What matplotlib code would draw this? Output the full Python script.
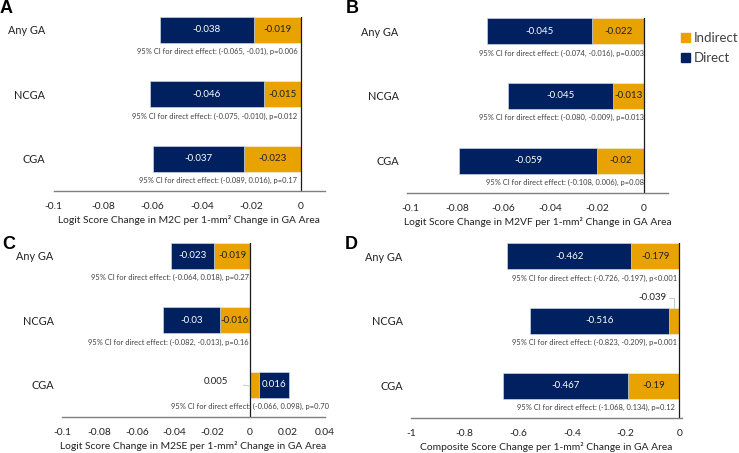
import numpy as np
import matplotlib
matplotlib.use("Agg")
import matplotlib.pyplot as plt
from matplotlib.patches import Patch

plt.rcParams['font.family'] = ['Lato', 'DejaVu Sans']

groups = ["Any GA", "NCGA", "CGA"]

# panel data: direct / indirect effects
direct_a = [-0.038, -0.046, -0.037]
indirect_a = [-0.019, -0.015, -0.023]
ci_a = ["(-0.065, -0.01), p=0.006", "(-0.075, -0.010), p=0.012", "(-0.089, 0.016), p=0.17"]

direct_b = [-0.045, -0.045, -0.059]
indirect_b = [-0.022, -0.013, -0.02]
ci_b = ["(-0.074, -0.016), p=0.003", "(-0.080, -0.009), p=0.013", "(-0.108, 0.006), p=0.08"]

direct_c = [-0.023, -0.03, 0.016]
indirect_c = [-0.019, -0.016, 0.005]
ci_c = ["(-0.064, 0.018), p=0.27", "(-0.082, -0.013), p=0.16", "(-0.066, 0.098), p=0.70"]

direct_d = [-0.462, -0.516, -0.467]
indirect_d = [-0.179, -0.039, -0.19]
ci_d = ["(-0.726, -0.197), p<0.001", "(-0.823, -0.209), p=0.001", "(-1.068, 0.134), p=0.12"]

xticks_ab = [-0.1, -0.08, -0.06, -0.04, -0.02, 0]
xticks_c = [-0.1, -0.08, -0.06, -0.04, -0.02, 0, 0.02, 0.04]
xticks_d = [-1, -0.8, -0.6, -0.4, -0.2, 0]

navy = "#002060"
gold = "#E8A202"

fig = plt.figure(figsize=(7.39, 4.53), dpi=100)


def panel(rect, letter, letter_pos, direct, indirect, ci, xlim, xticks, xlabel,
          ci_x, small_label=None):
    ax = fig.add_axes(rect)
    y = np.array([2, 1, 0])
    h = 0.4
    direct = np.array(direct)
    indirect = np.array(indirect)
    ax.barh(y, indirect, height=h, color=gold, edgecolor="#f2f2f2", linewidth=0.4)
    ax.barh(y, direct, left=indirect, height=h, color=navy, edgecolor="#dde3ee", linewidth=0.4)
    for i in range(3):
        if small_label is None or small_label != i:
            ax.text(indirect[i] / 2, y[i], f"{indirect[i]:g}", ha="center", va="center",
                    fontsize=7, color="#222222")
        ax.text(indirect[i] + direct[i] / 2, y[i], f"{direct[i]:g}", ha="center", va="center",
                fontsize=7, color="white")
        ax.text(ci_x[i], y[i] - 0.34, "95% CI for direct effect: " + ci[i], ha="right",
                va="center", fontsize=5.4, color="#404040")
    ax.set_xlim(*xlim)
    ax.set_ylim(-0.5, 2.2)
    ax.set_yticks(y)
    ax.set_yticklabels(groups)
    ax.set_xticks(xticks)
    ax.set_xticklabels([f"{t:g}" for t in xticks])
    ax.tick_params(axis="both", length=0, labelsize=7.4, colors="#222222")
    ax.tick_params(axis="y", pad=6, labelsize=7.8)
    ax.tick_params(axis="x", pad=8)
    for s in ["top", "right", "left"]:
        ax.spines[s].set_visible(False)
    ax.spines["bottom"].set_color("#7f7f7f")
    ax.spines["bottom"].set_linewidth(1.0)
    ax.axvline(0, color="#1a1a1a", lw=0.9)
    ax.set_xlabel(xlabel, fontsize=7.4, color="#222222", labelpad=3)
    fig.text(letter_pos[0], letter_pos[1], letter, fontsize=13, fontweight="bold",
             family="Liberation Sans", ha="left", va="top")
    return ax


panel([0.0724, 0.5784, 0.3674, 0.384], "A", (0.0, 1.0), direct_a, indirect_a, ci_a,
      (-0.1, 0.0097), xticks_ab, "Logit Score Change in M2C per 1-mm² Change in GA Area",
      [-0.0015, -0.0015, -0.0015])

panel([0.5507, 0.574, 0.3532, 0.386], "B", (0.468, 1.0), direct_b, indirect_b, ci_b,
      (-0.1013, 0.0103), xticks_ab, "Logit Score Change in M2VF per 1-mm² Change in GA Area",
      [0.0, 0.0, 0.0])

ax_c = panel([0.0839, 0.0795, 0.3559, 0.384], "C", (0.003, 0.478), direct_c, indirect_c, ci_c,
             (-0.1, 0.04), xticks_c, "Logit Score Change in M2SE per 1-mm² Change in GA Area",
             [-0.0005, -0.0005, 0.042], small_label=2)
ax_c.annotate(f"{indirect_c[2]:g}", xy=(0.0, -0.02), xytext=(-0.018, 0.05),
              ha="center", va="center", fontsize=7, color="#222222",
              arrowprops=dict(arrowstyle="-", color="#bfbfbf", lw=0.6, shrinkA=9, shrinkB=0))

ax_d = panel([0.5562, 0.0773, 0.3667, 0.386], "D", (0.466, 0.478), direct_d, indirect_d, ci_d,
             (-1.0, 0.01), xticks_d, "Composite Score Change per 1-mm² Change in GA Area",
             [-0.01, -0.01, -0.018], small_label=1)
ax_d.annotate(f"{indirect_d[1]:g}", xy=(indirect_d[1] / 2, 1.2), xytext=(-0.1, 1.36),
              ha="center", va="center", fontsize=7, color="#222222",
              arrowprops=dict(arrowstyle="-", color="#bfbfbf", lw=0.6, shrinkA=13, shrinkB=0,
                              connectionstyle="angle,angleA=0,angleB=90,rad=0"))

handles = [Patch(color=gold, label="Indirect"), Patch(color=navy, label="Direct")]
fig.legend(handles=handles, loc="upper left", bbox_to_anchor=(0.905, 0.955), frameon=False,
           fontsize=9.5, handlelength=0.7, handleheight=0.7, handletextpad=0.3,
           labelspacing=0.6, labelcolor="#404040")

fig.savefig("out.png", dpi=100)
